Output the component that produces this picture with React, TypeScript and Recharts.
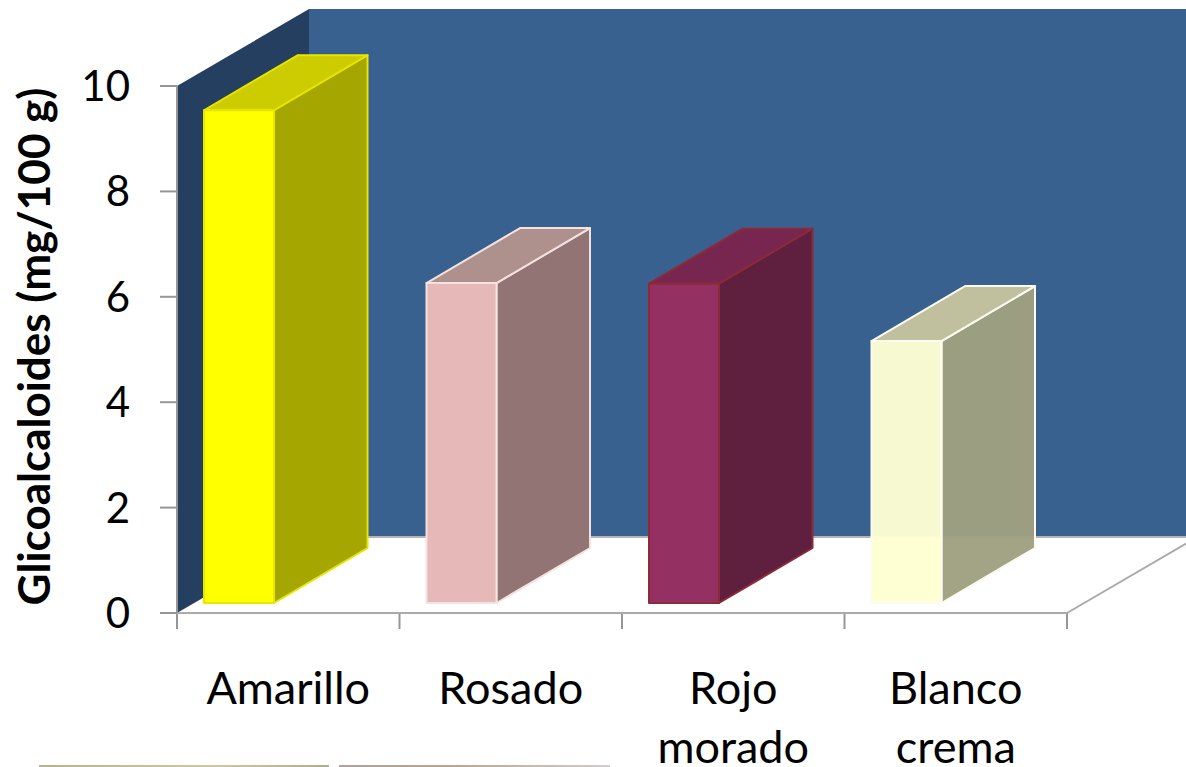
import { BarChart, Bar, XAxis, YAxis, Customized, usePlotArea } from 'recharts'

const categories = ['Amarillo', 'Rosado', 'Rojo morado', 'Blanco crema']
const glicoalcaloides = [9.35, 6.07, 6.06, 4.97]
const yTicks = [0, 2, 4, 6, 8, 10]

const frontColors = ['#FFFF00', '#E6B8B7', '#953063', '#FFFFD2']
const topColors = ['#CCCC00', '#AE908D', '#77274F', '#C0C09E']
const sideColors = ['#A6A600', '#917473', '#5F1F3F', '#A0A081']
const edgeColors = ['#E6E600', '#F4E2E0', '#8C2A38', '#FBFBF0']

const FONT = 'Lato, "Open Sans", sans-serif'
const AXIS_GREY = '#969696'

// depth of the walls and of the boxes
const WALL_DX = 132
const WALL_DY = 77
const BOX_DX = 93.5
const BOX_DY = 55
const BOX_SHIFT_X = 49
const BOX_SHIFT_Y = 10

const data = categories.map((name, i) => ({ name, value: glicoalcaloides[i] }))

function Walls() {
  const plot = usePlotArea()
  if (!plot) return null
  const { x, y, width, height } = plot
  const bottom = y + height
  const right = x + width
  const band = width / categories.length
  const edges = categories.map((_, i) => x + band * i).concat(right)
  return (
    <g>
      <rect x={x + WALL_DX} y={y - WALL_DY} width={width} height={height} fill="#38618F" />
      <line x1={x + WALL_DX} x2={right + WALL_DX} y1={bottom - WALL_DY + 1} y2={bottom - WALL_DY + 1} stroke="#B4B4B4" strokeWidth={2} />
      <polygon
        points={`${x},${bottom} ${x + WALL_DX},${bottom - WALL_DY} ${x + WALL_DX},${y - WALL_DY} ${x},${y}`}
        fill="#253F61"
      />
      <line x1={right} y1={bottom} x2={right + WALL_DX} y2={bottom - WALL_DY} stroke="#AAAAAA" strokeWidth={2} />
      {edges.map(ex => (
        <line key={ex} x1={ex} x2={ex} y1={bottom} y2={bottom + 16} stroke={AXIS_GREY} strokeWidth={2} />
      ))}
    </g>
  )
}

function Box3D(props: any) {
  const { x, y, width, height, index } = props
  const left = x - BOX_SHIFT_X
  const top = y - BOX_SHIFT_Y
  const right = left + width
  const bottom = top + height
  const edge = edgeColors[index]
  return (
    <g stroke={edge} strokeWidth={2} strokeLinejoin="round">
      <polygon
        points={`${right},${top} ${right + BOX_DX},${top - BOX_DY} ${right + BOX_DX},${bottom - BOX_DY} ${right},${bottom}`}
        fill={sideColors[index]}
        fillOpacity={index === 3 ? 0.97 : 1}
      />
      <polygon
        points={`${left},${top} ${left + BOX_DX},${top - BOX_DY} ${right + BOX_DX},${top - BOX_DY} ${right},${top}`}
        fill={topColors[index]}
      />
      <rect x={left} y={top} width={width} height={height} fill={frontColors[index]} fillOpacity={index === 3 ? 0.96 : 1} />
    </g>
  )
}

function CategoryTick(props: any) {
  const { x, payload } = props
  const lines = String(payload.value).split(' ')
  return (
    <text textAnchor="middle" fontFamily={FONT} fontSize={45} fill="#000">
      {lines.map((line, i) => (
        <tspan key={line} x={x} y={704 + i * 59}>{line}</tspan>
      ))}
    </text>
  )
}

export default function App() {
  return (
    <div style={{ position: 'absolute', left: 0, top: 0, width: 1186, height: 767, overflow: 'hidden', background: '#fff' }}>
      <BarChart
        width={1186}
        height={767}
        data={data}
        margin={{ top: 86, right: 119, bottom: 0, left: 0 }}
        barSize={70}
      >
        <Customized component={Walls} />
        <XAxis
          dataKey="name"
          interval={0}
          height={154}
          tick={<CategoryTick />}
          tickLine={false}
          axisLine={{ stroke: '#ABABAB', strokeWidth: 2 }}
        />
        <YAxis
          width={177}
          domain={[0, 10]}
          ticks={yTicks}
          tickSize={17}
          tickMargin={30}
          tick={{ fontFamily: FONT, fontSize: 42, fill: '#000' }}
          tickLine={{ stroke: AXIS_GREY, strokeWidth: 2 }}
          axisLine={{ stroke: AXIS_GREY, strokeWidth: 2 }}
          label={{
            value: 'Glicoalcaloides (mg/100 g)',
            angle: -90,
            position: 'insideLeft',
            offset: 0,
            dx: 34,
            dy: -3,
            style: { fontFamily: FONT, fontSize: 44, fontWeight: 700, fill: '#000', textAnchor: 'middle' },
          }}
        />
        <Bar dataKey="value" shape={Box3D} isAnimationActive={false} />
      </BarChart>
      <div style={{ position: 'absolute', left: 39, top: 765, width: 290, height: 2, background: 'linear-gradient(90deg,#B3B38E,#C9C9A4 60%,#AFAF8C)' }} />
      <div style={{ position: 'absolute', left: 339, top: 765, width: 271, height: 2, background: 'linear-gradient(90deg,#ADA49F,#B8A58F 40%,#CFCDCD)' }} />
    </div>
  )
}
